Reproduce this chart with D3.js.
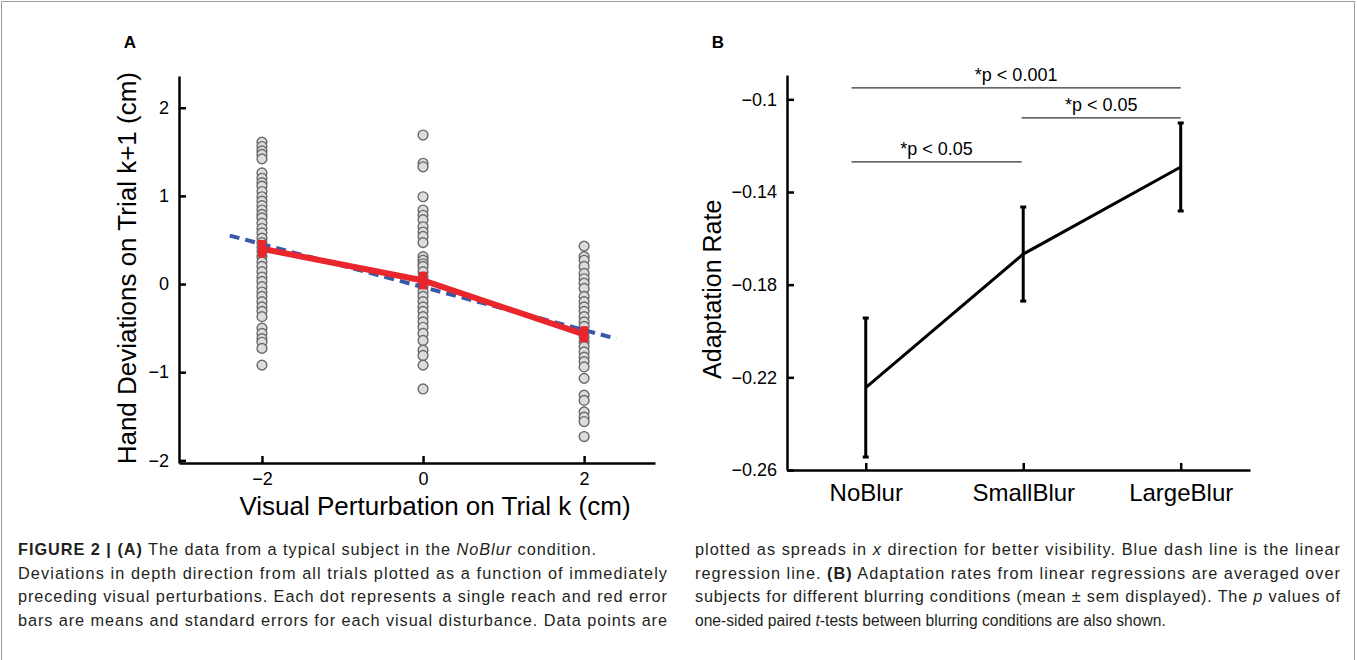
<!DOCTYPE html>
<html>
<head>
<meta charset="utf-8">
<script src="https://cdn.jsdelivr.net/npm/d3@7"></script>
<style>
body { margin: 0; background: #fff; }
svg { display: block; font-family: "Liberation Sans", Arial, sans-serif; }
.caption { font-family: "Liberation Sans Narrow", "Arial Narrow", "Liberation Sans", sans-serif; font-size: 16.3px; fill: #231f20; }
</style>
</head>
<body>
<svg id="fig" width="1357" height="660"></svg>
<script>
// Panel A data: hand deviations (cm) per visual perturbation
var perturbations = [-2, 0, 2];
var devAtMinus2 = [1.61, 1.56, 1.51, 1.47, 1.42, 1.26, 1.20, 1.15, 1.11, 1.05, 0.99, 0.94, 0.89, 0.84, 0.79,
  0.75, 0.69, 0.63, 0.58, 0.52, 0.47, 0.42, 0.37, 0.31, 0.25, 0.20, 0.14, 0.08, 0.03, -0.03, -0.09,
  -0.14, -0.20, -0.26, -0.31, -0.37, -0.50, -0.56, -0.62, -0.66, -0.73, -0.92];
var devAtZero = [1.69, 1.37, 1.33, 0.99, 0.84, 0.78, 0.73, 0.65, 0.59, 0.54, 0.47, 0.31, 0.27, 0.23, 0.20,
  0.14, 0.08, 0.03, -0.03, -0.09, -0.14, -0.20, -0.26, -0.31, -0.37, -0.43, -0.49, -0.56, -0.64,
  -0.75, -0.81, -0.92, -1.19];
var devAtPlus2 = [0.43, 0.31, 0.27, 0.20, 0.12, 0.06, 0.01, -0.05, -0.14, -0.20, -0.26, -0.31, -0.37,
  -0.43, -0.48, -0.54, -0.60, -0.66, -0.71, -0.77, -0.83, -0.88, -0.94, -1.07, -1.26, -1.32, -1.45,
  -1.51, -1.56, -1.73];
var devMeans = [0.40, 0.04, -0.57];
var devSems = [0.10, 0.10, 0.09];
var regX = [-2.4, 2.4];
var regY = [0.55, -0.62];
var ticksA = [-2, -1, 0, 1, 2];
var xTicksA = [-2, 0, 2];

// Panel B data: adaptation rates
var conditions = ['NoBlur', 'SmallBlur', 'LargeBlur'];
var rateMeans = [-0.2244, -0.1668, -0.1292];
var rateSems = [0.030, 0.0203, 0.019];
var ticksB = [-0.26, -0.22, -0.18, -0.14, -0.1];
var sigLabels = ['*p < 0.001', '*p < 0.05', '*p < 0.05'];
var sigFrom = [-0.09, 0.99, -0.09];
var sigTo = [2, 2, 0.99];
var sigLevel = [-0.0951, -0.108, -0.127];

var svg = d3.select('#fig');

// frame
svg.append('path').attr('d', 'M1.5 660 L1.5 1.5 L1354.5 1.5 L1354.5 660')
  .attr('fill', 'none').attr('stroke', '#9a9a9a').attr('stroke-width', 1);

// ---------- Panel A ----------
var xA = d3.scaleLinear().domain([-3.03, 2.88]).range([179, 655]);
var yA = d3.scaleLinear().domain([-2.03, 2.36]).range([463, 76]);

var gA = svg.append('g');

gA.append('text').attr('x', 130).attr('y', 48).attr('text-anchor', 'middle')
  .attr('font-weight', 'bold').attr('font-size', 17).text('A');

var axA = gA.append('g').attr('transform', 'translate(0,' + yA.range()[0] + ')')
  .call(d3.axisBottom(xA).tickValues(xTicksA).tickFormat(d3.format('d'))
    .tickSize(-7).tickSizeOuter(0).tickPadding(9));
var ayA = gA.append('g').attr('transform', 'translate(' + xA.range()[0] + ',0)')
  .call(d3.axisLeft(yA).tickValues(ticksA).tickFormat(d3.format('d'))
    .tickSize(-7).tickSizeOuter(0).tickPadding(10));
[axA, ayA].forEach(function(a) {
  a.select('.domain').attr('stroke', '#000').attr('stroke-width', 2.5);
  a.selectAll('.tick line').attr('stroke', '#000').attr('stroke-width', 2.5);
  a.selectAll('.tick text').attr('font-size', 18).attr('fill', '#000').attr('font-family', 'Liberation Sans, Arial, sans-serif');
});

gA.append('text').attr('x', 435).attr('y', 515).attr('text-anchor', 'middle')
  .attr('font-size', 26).text('Visual Perturbation on Trial k (cm)');
gA.append('text').attr('transform', 'translate(136,' + yA(0.18) + ') rotate(-90)')
  .attr('text-anchor', 'middle').attr('font-size', 26).text('Hand Deviations on Trial k+1 (cm)');

// dots
var columns = [devAtMinus2, devAtZero, devAtPlus2];
columns.forEach(function(col, i) {
  gA.append('g').selectAll('circle').data(col).enter().append('circle')
    .attr('cx', xA(perturbations[i]))
    .attr('cy', function(d) { return yA(d); })
    .attr('r', 4.9)
    .attr('fill', '#dcdcdc')
    .attr('stroke', '#6a6a6a')
    .attr('stroke-width', 1.4);
});

// regression line
gA.append('line')
  .attr('x1', xA(regX[0])).attr('y1', yA(regY[0]))
  .attr('x2', xA(regX[1])).attr('y2', yA(regY[1]))
  .attr('stroke', '#3a58a8').attr('stroke-width', 4).attr('stroke-dasharray', '10,6');

// means and error bars
var meanLine = d3.line()
  .x(function(d, i) { return xA(perturbations[i]); })
  .y(function(d) { return yA(d); });
gA.append('path').datum(devMeans).attr('d', meanLine)
  .attr('fill', 'none').attr('stroke', '#e8262b').attr('stroke-width', 6);
var eb = gA.append('g').selectAll('g').data(devMeans).enter().append('g');
eb.append('line')
  .attr('x1', function(d, i) { return xA(perturbations[i]); })
  .attr('x2', function(d, i) { return xA(perturbations[i]); })
  .attr('y1', function(d, i) { return yA(d + devSems[i]); })
  .attr('y2', function(d, i) { return yA(d - devSems[i]); })
  .attr('stroke', '#e8262b').attr('stroke-width', 8);

// ---------- Panel B ----------
var xB = d3.scaleLinear().domain([-0.5, 2.44]).range([787, 1250]);
var yB = d3.scaleLinear().domain([-0.26, -0.0895]).range([470, 75]);

var gB = svg.append('g');
gB.append('text').attr('x', 718).attr('y', 48).attr('text-anchor', 'middle')
  .attr('font-weight', 'bold').attr('font-size', 17).text('B');

var axB = gB.append('g').attr('transform', 'translate(0,' + yB.range()[0] + ')')
  .call(d3.axisBottom(xB).tickValues([0, 1, 2]).tickFormat(function(d) { return conditions[d]; })
    .tickSize(-7).tickSizeOuter(0).tickPadding(14));
var ayB = gB.append('g').attr('transform', 'translate(' + xB.range()[0] + ',0)')
  .call(d3.axisLeft(yB).tickValues(ticksB).tickFormat(d3.format('.2~f')).tickSize(-7).tickSizeOuter(0).tickPadding(10));
[axB, ayB].forEach(function(a) {
  a.select('.domain').attr('stroke', '#000').attr('stroke-width', 2.5);
  a.selectAll('.tick line').attr('stroke', '#000').attr('stroke-width', 2.5);
  a.selectAll('.tick text').attr('fill', '#000').attr('font-family', 'Liberation Sans, Arial, sans-serif');
});
axB.selectAll('.tick text').attr('font-size', 24);
ayB.selectAll('.tick text').attr('font-size', 18);

gB.append('text').attr('transform', 'translate(721,' + yB(-0.182) + ') rotate(-90)')
  .attr('text-anchor', 'middle').attr('font-size', 25).text('Adaptation Rate');

var rateLine = d3.line()
  .x(function(d, i) { return xB(i); })
  .y(function(d) { return yB(d); });
gB.append('path').datum(rateMeans).attr('d', rateLine)
  .attr('fill', 'none').attr('stroke', '#000').attr('stroke-width', 3);
var ebB = gB.append('g').selectAll('g').data(rateMeans).enter().append('g');
ebB.append('line')
  .attr('x1', function(d, i) { return xB(i); })
  .attr('x2', function(d, i) { return xB(i); })
  .attr('y1', function(d, i) { return yB(d + rateSems[i]); })
  .attr('y2', function(d, i) { return yB(d - rateSems[i]); })
  .attr('stroke', '#000').attr('stroke-width', 3);
[1, -1].forEach(function(s) {
  ebB.append('line')
    .attr('x1', function(d, i) { return xB(i) - 3; })
    .attr('x2', function(d, i) { return xB(i) + 3; })
    .attr('y1', function(d, i) { return yB(d + s * rateSems[i]); })
    .attr('y2', function(d, i) { return yB(d + s * rateSems[i]); })
    .attr('stroke', '#000').attr('stroke-width', 3);
});

// significance brackets
var sig = gB.append('g').selectAll('g').data(sigLabels).enter().append('g');
sig.append('line')
  .attr('x1', function(d, i) { return xB(sigFrom[i]); })
  .attr('x2', function(d, i) { return xB(sigTo[i]); })
  .attr('y1', function(d, i) { return yB(sigLevel[i]); })
  .attr('y2', function(d, i) { return yB(sigLevel[i]); })
  .attr('stroke', '#333').attr('stroke-width', 1.2);
sig.append('text')
  .attr('x', function(d, i) { return (xB(sigFrom[i]) + xB(sigTo[i])) / 2; })
  .attr('y', function(d, i) { return yB(sigLevel[i]) - 7; })
  .attr('text-anchor', 'middle').attr('font-size', 18)
  .text(function(d) { return d; });

// ---------- Caption ----------
var cap = svg.append('g').attr('class', 'caption');
function capLine(x, y, parts, width, size) {
  var t = cap.append('text').attr('x', x).attr('y', y);
  if (width) t.attr('textLength', width).attr('lengthAdjust', 'spacing');
  if (size) t.attr('font-size', size);
  parts.forEach(function(p) {
    var s = t.append('tspan').text(p[0]);
    if (p[1] === 'b') s.attr('font-weight', 'bold');
    if (p[1] === 'i') s.attr('font-style', 'italic');
  });
}
capLine(18, 555, [['FIGURE 2 | (A)', 'b'], [' The data from a typical subject in the '], ['NoBlur', 'i'], [' condition.']], 578);
capLine(18, 579, [['Deviations in depth direction from all trials plotted as a function of immediately']], 649);
capLine(18, 602, [['preceding visual perturbations. Each dot represents a single reach and red error']], 649);
capLine(18, 626, [['bars are means and standard errors for each visual disturbance. Data points are']], 649);
capLine(695, 555, [['plotted as spreads in '], ['x', 'i'], [' direction for better visibility. Blue dash line is the linear']], 645);
capLine(695, 579, [['regression line. '], ['(B)', 'b'], [' Adaptation rates from linear regressions are averaged over']], 645);
capLine(695, 602, [['subjects for different blurring conditions (mean \u00b1 sem displayed). The '], ['p', 'i'], [' values of']], 645);
capLine(695, 626, [['one-sided paired '], ['t', 'i'], ['-tests between blurring conditions are also shown.']], null, 15.6);
</script>
</body>
</html>
